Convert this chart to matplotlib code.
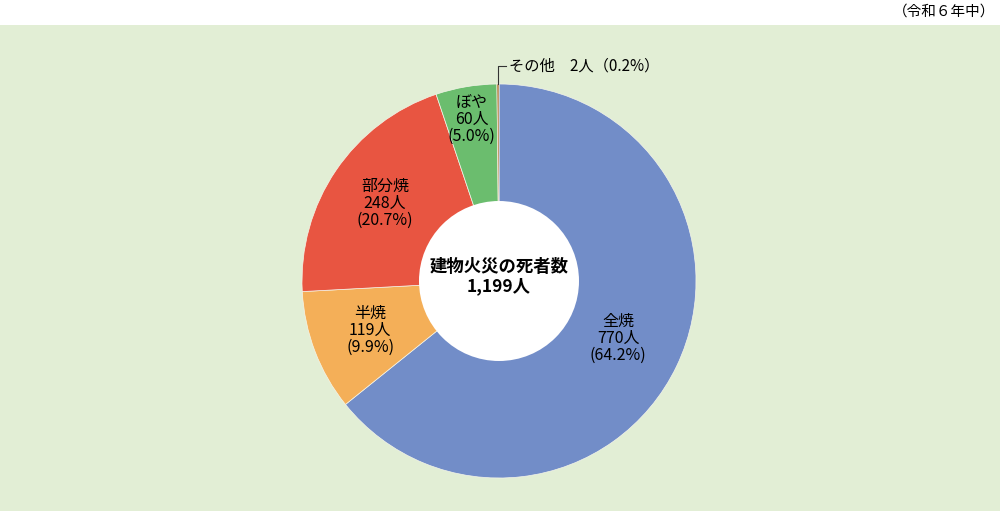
import numpy as np
import matplotlib.pyplot as plt
from matplotlib.patches import Rectangle, Circle

plt.rcParams['font.family'] = ['Noto Sans CJK JP', 'DejaVu Sans']

# Data
categories = ['全焼', '半焼', '部分焼', 'ぼや', 'その他']
deaths = [770, 119, 248, 60, 2]
percents = ['64.2%', '9.9%', '20.7%', '5.0%', '0.2%']
total_label = '1,199人'
colors = ['#728DC8', '#F4AF58', '#E85541', '#6BBD6E', '#A86A2A']
label_dist = [0.67, 0.70, 0.70, 0.83]

fig = plt.figure(figsize=(10, 5.11), dpi=100)
ax = fig.add_axes([0, 0, 1, 1])

cx, cy, r = 499, 230, 197
wedges, _ = ax.pie(deaths, colors=colors, startangle=90, counterclock=False,
                   center=(cx, cy), radius=r, frame=True,
                   wedgeprops=dict(edgecolor='#F5F5EA', linewidth=0.5))
ax.set_xlim(0, 1000)
ax.set_ylim(0, 511)
ax.set_aspect('equal')
ax.axis('off')

# light green panel below the header strip
ax.add_patch(Rectangle((0, 0), 1000, 486, facecolor='#E2EED5', edgecolor='none', zorder=0))
ax.add_patch(Circle((cx, cy), 80, facecolor='white', edgecolor='none', zorder=5))

# slice labels
for i, w in enumerate(wedges[:4]):
    ang = np.deg2rad((w.theta1 + w.theta2) / 2)
    x = cx + label_dist[i] * r * np.cos(ang)
    y = cy + label_dist[i] * r * np.sin(ang)
    ax.text(x, y, f'{categories[i]}\n{deaths[i]}人\n({percents[i]})',
            ha='center', va='center', fontsize=11.5, linespacing=1.0, zorder=6)

# その他 with leader line
w = wedges[4]
ang = np.deg2rad((w.theta1 + w.theta2) / 2)
px, py = cx + r * np.cos(ang), cy + r * np.sin(ang)
ax.plot([px, px, px + 8], [py, py + 18, py + 18], color='#333333', lw=0.8, zorder=6)
ax.text(px + 11, py + 18, f'{categories[4]}　{deaths[4]}人（{percents[4]}）',
        ha='left', va='center', fontsize=11, zorder=6)

# center text
ax.text(cx, cy + 4, f'建物火災の死者数\n{total_label}', ha='center', va='center',
        fontsize=12.5, fontweight='bold', linespacing=1.1, zorder=6)

ax.text(995, 499, '（令和６年中）', ha='right', va='center', fontsize=10.5)

fig.savefig('out.png', dpi=100)
